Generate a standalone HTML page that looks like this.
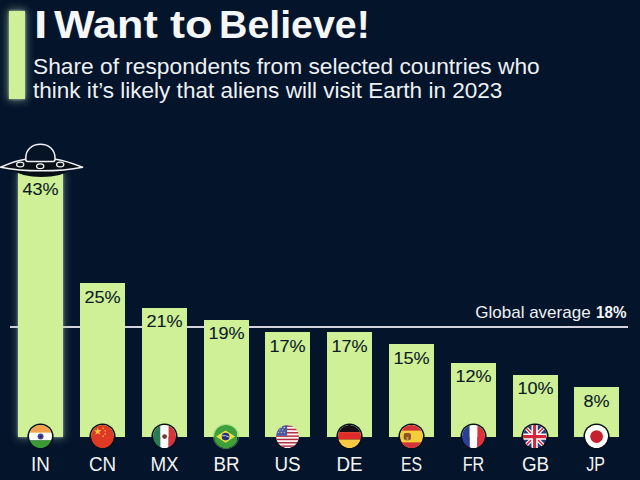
<!DOCTYPE html>
<html><head><meta charset="utf-8"><title>I Want to Believe!</title>
<style>
html,body{margin:0;padding:0}
body{width:640px;height:480px;overflow:hidden;background:#04142b;font-family:"Liberation Sans",sans-serif;position:relative}
.abs{position:absolute}
.t{position:absolute;white-space:nowrap;transform-origin:0 0;line-height:1}
.bar{position:absolute;background:#cff096}
.pct{position:absolute;color:#0b1a26;-webkit-text-stroke:.1px #0b1a26;transform:scaleX(1.045);font-size:17.3px;line-height:1;text-align:center;white-space:nowrap}
.lab{position:absolute;color:#f2f4f6;font-size:20px;line-height:1;text-align:center;white-space:nowrap;transform:scaleX(.94)}
.flag{position:absolute;width:23.2px;height:23.2px;border-radius:50%;box-shadow:0 0 0 1.6px #07111d;overflow:hidden}
.flag svg{display:block;border-radius:50%}
</style></head><body>
<div class="abs" style="left:9.2px;top:10.8px;width:15.8px;height:87.8px;background:#cff096;box-shadow:0 0 2.5px rgba(235,245,225,.7),0 0 8px 1.5px rgba(170,215,160,.5)"></div>
<div class="t" style="left:33.75px;top:5.7px;font-size:38.5px;font-weight:bold;color:#f4f6f8;transform:scaleX(1.25)">I</div>
<div class="t" style="left:54.4px;top:5.7px;font-size:38.5px;font-weight:bold;color:#f4f6f8;transform:scaleX(1.12)">Want</div>
<div class="t" style="left:169.7px;top:5.7px;font-size:38.5px;font-weight:bold;color:#f4f6f8;transform:scaleX(1.17)">to</div>
<div class="t" style="left:219.2px;top:5.7px;font-size:38.5px;font-weight:bold;color:#f4f6f8;transform:scaleX(1.021)">Believe!</div>
<div class="t" id="s1" style="left:33px;top:56px;font-size:21.8px;color:#eef1f4;transform:scaleX(1.043)">Share of respondents from selected countries who</div>
<div class="t" id="s2" style="left:33px;top:80.4px;font-size:21.8px;color:#eef1f4;transform:scaleX(1.034)">think it’s likely that aliens will visit Earth in 2023</div>
<div class="abs" style="left:9.5px;top:326.1px;width:618.5px;height:1.5px;background:#d2d3df"></div>
<div class="bar" style="left:18.10px;top:172.9px;width:45px;height:263.8px;box-shadow:0 0 2.5px rgba(225,240,225,.55),0 0 8px 1.5px rgba(140,185,170,.42)"></div>
<div class="bar" style="left:79.90px;top:283.2px;width:45px;height:153.5px"></div>
<div class="bar" style="left:141.70px;top:307.7px;width:45px;height:129.0px"></div>
<div class="bar" style="left:203.50px;top:319.9px;width:45px;height:116.8px"></div>
<div class="bar" style="left:265.30px;top:332.2px;width:45px;height:104.5px"></div>
<div class="bar" style="left:327.10px;top:332.2px;width:45px;height:104.5px"></div>
<div class="bar" style="left:388.90px;top:344.4px;width:45px;height:92.3px"></div>
<div class="bar" style="left:450.70px;top:362.8px;width:45px;height:73.9px"></div>
<div class="bar" style="left:512.50px;top:375.1px;width:45px;height:61.6px"></div>
<div class="bar" style="left:574.30px;top:387.3px;width:45px;height:49.4px"></div>
<div class="t" style="left:475.3px;top:304.3px;font-size:17px;color:#eef1f4">Global average</div>
<div class="t" style="left:596.1px;top:304.3px;font-size:17px;font-weight:bold;color:#f4f6f8;transform:scaleX(.894)">18%</div>
<div class="pct" style="left:18.10px;width:45px;top:181.4px">43%</div>
<div class="flag" style="left:29.00px;top:425.1px"><svg width="23.2" height="23.2" viewBox="0 0 24 24"><rect width="24" height="8" fill="#f2a04e"/><rect y="8" width="24" height="8" fill="#fbfbfb"/><rect y="16" width="24" height="8" fill="#3a9a34"/><circle cx="12" cy="12" r="3.1" fill="#3f4498"/><circle cx="12" cy="12" r="1.1" fill="#1d2266"/></svg></div>
<div class="lab" style="left:8.10px;width:65px;top:453.8px">IN</div>
<div class="pct" style="left:79.90px;width:45px;top:288.5px">25%</div>
<div class="flag" style="left:90.80px;top:425.1px"><svg width="23.2" height="23.2" viewBox="0 0 24 24"><rect width="24" height="24" fill="#dd3a24"/><path d="M7 2.6l.95 2.9h3.05l-2.45 1.8.95 2.9L7 8.4l-2.5 1.8.95-2.9L3 5.5h3.05z" fill="#f6c544"/><circle cx="12.6" cy="3.4" r=".9" fill="#f39a6a"/><circle cx="14.7" cy="6" r=".9" fill="#f39a6a"/><circle cx="14.7" cy="9.2" r=".9" fill="#f39a6a"/><circle cx="12.6" cy="11.6" r=".9" fill="#f39a6a"/></svg></div>
<div class="lab" style="left:69.90px;width:65px;top:453.8px">CN</div>
<div class="pct" style="left:141.70px;width:45px;top:313.0px">21%</div>
<div class="flag" style="left:152.60px;top:425.1px"><svg width="23.2" height="23.2" viewBox="0 0 24 24"><rect width="8" height="24" fill="#2a7a52"/><rect x="7.6" width="8.6" height="24" fill="#fbfbfb"/><rect x="16.2" width="7.8" height="24" fill="#d8343c"/><circle cx="12" cy="12" r="2.5" fill="#6a4034"/></svg></div>
<div class="lab" style="left:131.70px;width:65px;top:453.8px">MX</div>
<div class="pct" style="left:203.50px;width:45px;top:325.2px">19%</div>
<div class="flag" style="left:214.40px;top:425.1px;box-shadow:0 0 0 1px rgba(120,200,110,.5)"><svg width="23.2" height="23.2" viewBox="0 0 24 24"><rect width="24" height="24" fill="#3ea03a"/><path d="M12 5.6L21.8 12 12 18.4 2.2 12z" fill="#f2e040"/><circle cx="12" cy="12" r="4" fill="#22307c"/><path d="M8.2 11.2 Q12 10.2 15.8 12.6" stroke="#dfe6f2" stroke-width=".9" fill="none"/></svg></div>
<div class="lab" style="left:193.50px;width:65px;top:453.8px">BR</div>
<div class="pct" style="left:265.30px;width:45px;top:337.5px">17%</div>
<div class="flag" style="left:276.20px;top:425.1px;box-shadow:none"><svg width="23.2" height="23.2" viewBox="0 0 24 24"><rect width="24" height="24" fill="#fbf1f1"/><g fill="#b02c3c"><rect y="0.40" width="24" height="1.5"/><rect y="3.85" width="24" height="1.5"/><rect y="7.30" width="24" height="1.5"/><rect y="10.75" width="24" height="1.5"/><rect y="14.20" width="24" height="1.5"/><rect y="17.65" width="24" height="1.5"/><rect y="21.10" width="24" height="1.5"/></g><rect width="11.5" height="11.2" fill="#4a5a9c"/><g fill="#e8ecf6"><circle cx="2.5" cy="2.5" r=".6"/><circle cx="5.5" cy="2.5" r=".6"/><circle cx="8.5" cy="2.5" r=".6"/><circle cx="4" cy="5" r=".6"/><circle cx="7" cy="5" r=".6"/><circle cx="2.5" cy="7.5" r=".6"/><circle cx="5.5" cy="7.5" r=".6"/><circle cx="8.5" cy="7.5" r=".6"/></g></svg></div>
<div class="lab" style="left:255.30px;width:65px;top:453.8px">US</div>
<div class="pct" style="left:327.10px;width:45px;top:337.5px">17%</div>
<div class="flag" style="left:338.00px;top:425.1px"><svg width="23.2" height="23.2" viewBox="0 0 24 24"><rect width="24" height="7.4" fill="#161016"/><rect y="7.4" width="24" height="7.6" fill="#e02c28"/><rect y="15" width="24" height="9" fill="#f8ca44"/></svg></div>
<div class="lab" style="left:317.10px;width:65px;top:453.8px">DE</div>
<div class="pct" style="left:388.90px;width:45px;top:349.7px">15%</div>
<div class="flag" style="left:399.80px;top:425.1px"><svg width="23.2" height="23.2" viewBox="0 0 24 24"><rect width="24" height="24" fill="#f7cc3a"/><rect width="24" height="5.8" fill="#d2343a"/><rect y="18" width="24" height="6" fill="#d2343a"/><rect x="3.8" y="8.3" width="7.6" height="7.4" rx="2.2" fill="#8c5428"/><rect x="6.6" y="12.4" width="2" height="3.3" fill="#c89a48"/></svg></div>
<div class="lab" style="left:378.90px;width:65px;top:453.8px;transform:scaleX(.79)">ES</div>
<div class="pct" style="left:450.70px;width:45px;top:368.1px">12%</div>
<div class="flag" style="left:461.60px;top:425.1px"><svg width="23.2" height="23.2" viewBox="0 0 24 24"><rect width="8" height="24" fill="#2a3f9a"/><rect x="8" width="8" height="24" fill="#fff"/><rect x="16" width="8" height="24" fill="#e0303c"/></svg></div>
<div class="lab" style="left:440.70px;width:65px;top:453.8px;transform:scaleX(.81)">FR</div>
<div class="pct" style="left:512.50px;width:45px;top:380.4px">10%</div>
<div class="flag" style="left:523.40px;top:425.1px"><svg width="23.2" height="23.2" viewBox="0 0 24 24"><rect width="24" height="24" fill="#26347a"/><path d="M0 0L24 24M24 0L0 24" stroke="#fff" stroke-width="4"/><path d="M0 0L24 24M24 0L0 24" stroke="#d0283a" stroke-width="1.6"/><path d="M12 0V24M0 12H24" stroke="#fff" stroke-width="6.5"/><path d="M12 0V24M0 12H24" stroke="#d0283a" stroke-width="3.2"/></svg></div>
<div class="lab" style="left:502.50px;width:65px;top:453.8px">GB</div>
<div class="pct" style="left:574.30px;width:45px;top:392.6px">8%</div>
<div class="flag" style="left:585.20px;top:425.1px"><svg width="23.2" height="23.2" viewBox="0 0 24 24"><rect width="24" height="24" fill="#fff"/><circle cx="12" cy="12" r="6.6" fill="#c4202d"/></svg></div>
<div class="lab" style="left:564.30px;width:65px;top:453.8px;transform:scaleX(.8);margin-left:-1.3px">JP</div>
<svg class="abs" style="left:0;top:138px" width="90" height="44" viewBox="0 138 90 44">
<path d="M12.5 169 C20 179.6 63 179.6 70.5 169 Z" fill="#080e15"/>
<path d="M0.6 167.2 C11 162.6 19 160 25.8 159.2 L55.5 159.2 C62 160 71 162.6 82.6 167.2 C70 169.8 56 170.8 41.5 170.8 C27 170.8 13 169.8 0.6 167.2Z" fill="#0a1016" stroke="#f1f3f6" stroke-width="1.5" stroke-linejoin="round"/>
<path d="M25.8 159.5 V158 C25.8 149.5 32 144.3 40.4 144.3 C48.8 144.3 55 149.5 55 158 V159.5 C55 160.7 54.3 161.4 53.1 161.4 H27.7 C26.5 161.4 25.8 160.7 25.8 159.5 Z" fill="#061327" stroke="#f1f3f6" stroke-width="1.5" stroke-linejoin="round"/>
<ellipse cx="20.2" cy="164.5" rx="3.6" ry="2.4" fill="none" stroke="#f1f3f6" stroke-width="1.3"/>
<ellipse cx="40.2" cy="166.2" rx="3.6" ry="2.4" fill="none" stroke="#f1f3f6" stroke-width="1.3"/>
<ellipse cx="60.2" cy="164.5" rx="3.6" ry="2.4" fill="none" stroke="#f1f3f6" stroke-width="1.3"/>
</svg>
</body></html>
